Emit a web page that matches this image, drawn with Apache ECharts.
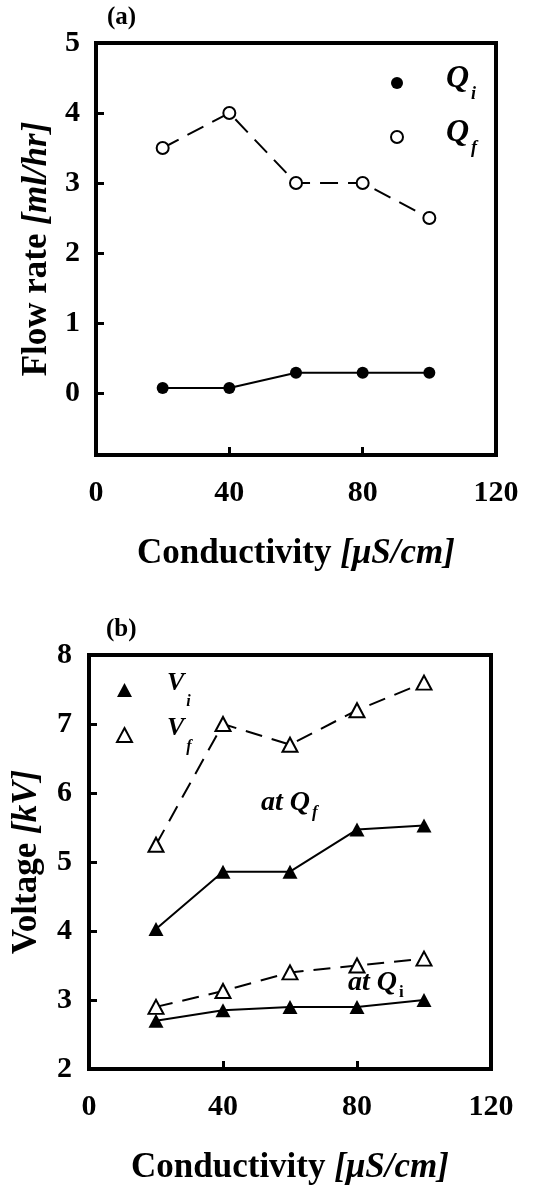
<!DOCTYPE html>
<html>
<head>
<meta charset="utf-8">
<script src="https://cdn.jsdelivr.net/npm/echarts@6.0.0/dist/echarts.min.js"></script>
<style>
  html, body { margin: 0; padding: 0; background: #fff; }
  #chart { width: 543px; height: 1189px; }
</style>
</head>
<body>
<div id="chart"></div>
<script>
// data
var conductivity = [20, 40, 60, 80, 100];
var flowQi = [0.07, 0.07, 0.29, 0.29, 0.29];
var flowQf = [3.5, 4.0, 3.0, 3.0, 2.5];
var viAtQf = [4.03, 4.86, 4.86, 5.47, 5.53];
var vfAtQf = [5.25, 7.0, 6.7, 7.2, 7.6];
var viAtQi = [2.7, 2.85, 2.9, 2.9, 3.0];
var vfAtQi = [2.9, 3.13, 3.4, 3.5, 3.6];
var flowTicks = [0, 1, 2, 3, 4, 5];

var FONT = "'Liberation Serif', 'DejaVu Serif', serif";

function pairs(ys) {
  return conductivity.map(function (x, i) { return [x, ys[i]]; });
}

var myChart = echarts.init(document.getElementById('chart'));

var tickLabel = { color: '#000', fontFamily: FONT, fontWeight: 'bold', fontSize: 30 };
var titleRich = {
  b: { fontFamily: FONT, fontWeight: 'bold', fontSize: 35, color: '#000' },
  i: { fontFamily: FONT, fontWeight: 'bold', fontStyle: 'italic', fontSize: 35, color: '#000' }
};

function xAxisFor(grid) {
  return {
    type: 'value', gridIndex: grid, min: 0, max: 120, interval: 40,
    axisLine: { show: true, onZero: false, lineStyle: { color: '#000', width: 4 } },
    axisTick: { show: true, inside: true, length: 8, lineStyle: { color: '#000', width: 3 } },
    axisLabel: Object.assign({ margin: 23 }, tickLabel),
    splitLine: { show: false },
    name: '{b|Conductivity }{i|[μS/cm]}',
    nameLocation: 'middle', nameGap: 81,
    nameTextStyle: { rich: titleRich }
  };
}

// symbol letter on top, subscript pushed to the bottom of a taller line
function subRich(size, subSize, lineH, gap, subItalic) {
  return {
    g: { width: gap, fontSize: 10, lineHeight: lineH },
    q: { fontFamily: FONT, fontWeight: 'bold', fontStyle: 'italic', fontSize: size, lineHeight: size, verticalAlign: 'top', color: '#000', fill: '#000' },
    s: { fontFamily: FONT, fontWeight: 'bold', fontStyle: subItalic ? 'italic' : 'normal', fontSize: subSize, lineHeight: subSize, padding: [0, 0, 0, 2], verticalAlign: 'bottom', color: '#000', fill: '#000' }
  };
}

function legendFmt(n) {
  return '{g| }{q|' + n.charAt(0) + '}{s|' + n.slice(1) + '}';
}

option = {
  animation: false,
  backgroundColor: '#fff',
  title: [
    { text: '(a)', left: 107, top: 5, padding: 0, textStyle: { fontFamily: FONT, fontWeight: 'bold', fontSize: 25, color: '#000' } },
    { text: '(b)', left: 106, top: 617, padding: 0, textStyle: { fontFamily: FONT, fontWeight: 'bold', fontSize: 25, color: '#000' } }
  ],
  grid: [
    { left: 96, top: 43, width: 400, height: 412, show: true, borderColor: '#000', borderWidth: 4, outerBoundsMode: 'none' },
    { left: 89, top: 655, width: 402, height: 414, show: true, borderColor: '#000', borderWidth: 4, outerBoundsMode: 'none' }
  ],
  legend: [
    {
      data: [{ name: 'Qi', icon: 'circle' }, { name: 'Qf', icon: 'emptyCircle' }],
      orient: 'vertical', left: 390, top: 63, padding: 0, itemGap: 14,
      itemWidth: 12, itemHeight: 12, selectedMode: false,
      formatter: legendFmt,
      textStyle: { rich: subRich(32, 18, 40, 38, true) }
    },
    {
      data: [{ name: 'Vi', icon: 'triangle' }, { name: 'Vf', icon: 'emptyTriangle' }],
      orient: 'vertical', left: 116, top: 670, padding: 0, itemGap: 5,
      itemWidth: 15, itemHeight: 14, selectedMode: false,
      formatter: legendFmt,
      textStyle: { rich: subRich(26, 16, 40, 30, true) }
    }
  ],
  xAxis: [xAxisFor(0), xAxisFor(1)],
  yAxis: [
    {
      type: 'value', gridIndex: 0, min: -0.886, max: 5,
      axisLine: { show: true, onZero: false, lineStyle: { color: '#000', width: 4 } },
      axisTick: { show: true, inside: true, length: 8, customValues: flowTicks, lineStyle: { color: '#000', width: 3 } },
      axisLabel: Object.assign({ margin: 16, customValues: flowTicks }, tickLabel),
      splitLine: { show: false },
      name: '{b|Flow rate }{i|[ml/hr]}',
      nameLocation: 'middle', nameGap: 42, nameRotate: 90,
      nameTextStyle: { rich: titleRich }
    },
    {
      type: 'value', gridIndex: 1, min: 2, max: 8, interval: 1,
      axisLine: { show: true, onZero: false, lineStyle: { color: '#000', width: 4 } },
      axisTick: { show: true, inside: true, length: 8, lineStyle: { color: '#000', width: 3 } },
      axisLabel: Object.assign({ margin: 17 }, tickLabel),
      splitLine: { show: false },
      name: '{b|Voltage }{i|[kV]}',
      nameLocation: 'middle', nameGap: 45, nameRotate: 90,
      nameTextStyle: { rich: titleRich }
    }
  ],
  graphic: [
    {
      type: 'text', left: 260, top: 789,
      style: { text: '{g| }{q|at Q}{s|f}', rich: subRich(28, 17, 32, 1, true) }
    },
    {
      type: 'text', left: 347, top: 969,
      style: { text: '{g| }{q|at Q}{s|i}', rich: subRich(28, 17, 32, 1, false) }
    }
  ],
  series: [
    {
      name: 'Qi', type: 'line', xAxisIndex: 0, yAxisIndex: 0, data: pairs(flowQi),
      symbol: 'circle', symbolSize: 12,
      itemStyle: { color: '#000' }, lineStyle: { color: '#000', width: 2 },
      emphasis: { disabled: true }
    },
    {
      name: 'Qf', type: 'line', xAxisIndex: 0, yAxisIndex: 0, data: pairs(flowQf),
      symbol: 'emptyCircle', symbolSize: 12,
      itemStyle: { color: '#000', borderWidth: 2 }, lineStyle: { color: '#000', width: 2, type: [18, 10] },
      emphasis: { disabled: true }
    },
    {
      name: 'Vi', type: 'line', xAxisIndex: 1, yAxisIndex: 1, data: pairs(viAtQf),
      symbol: 'triangle', symbolSize: [15, 14],
      itemStyle: { color: '#000' }, lineStyle: { color: '#000', width: 2 },
      emphasis: { disabled: true }
    },
    {
      name: 'Vf', type: 'line', xAxisIndex: 1, yAxisIndex: 1, data: pairs(vfAtQf),
      symbol: 'emptyTriangle', symbolSize: [15, 14],
      itemStyle: { color: '#000', borderWidth: 2 }, lineStyle: { color: '#000', width: 2, type: [17, 10] },
      emphasis: { disabled: true }
    },
    {
      name: 'Vi', type: 'line', xAxisIndex: 1, yAxisIndex: 1, data: pairs(viAtQi),
      symbol: 'triangle', symbolSize: [15, 14],
      itemStyle: { color: '#000' }, lineStyle: { color: '#000', width: 2 },
      emphasis: { disabled: true }
    },
    {
      name: 'Vf', type: 'line', xAxisIndex: 1, yAxisIndex: 1, data: pairs(vfAtQi),
      symbol: 'emptyTriangle', symbolSize: [15, 14],
      itemStyle: { color: '#000', borderWidth: 2 }, lineStyle: { color: '#000', width: 2, type: [17, 10] },
      emphasis: { disabled: true }
    }
  ]
};

myChart.setOption(option);
</script>
</body>
</html>
